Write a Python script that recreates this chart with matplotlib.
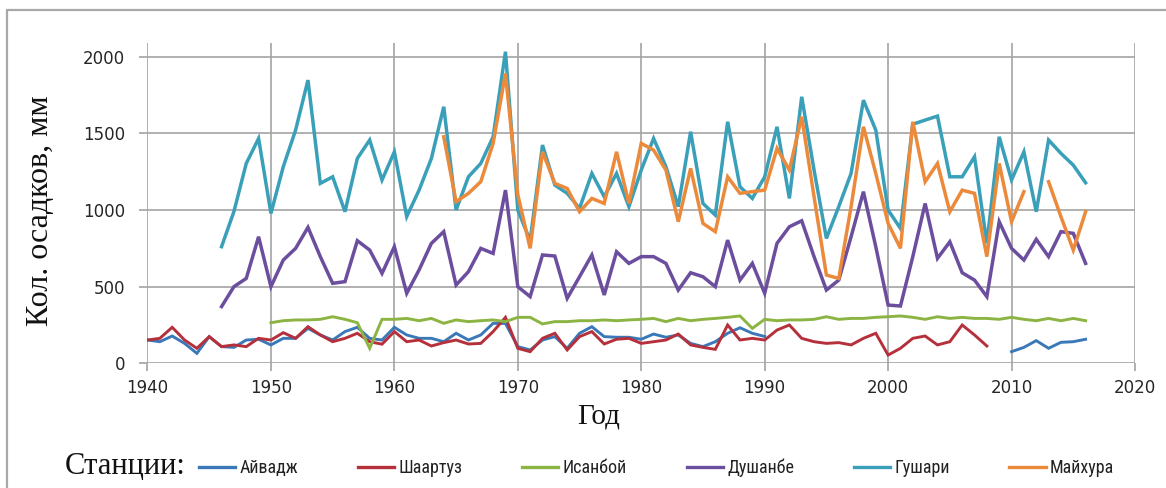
import numpy as np
import matplotlib
matplotlib.use("Agg")
import matplotlib.pyplot as plt
from matplotlib.lines import Line2D
from matplotlib.patches import Rectangle
from matplotlib import font_manager

nan = np.nan

# Годы наблюдений
years = np.arange(1940, 2017)

# Годовые суммы осадков по станциям, мм (1940–2016; nan = нет данных)
aivadj = [152, 141, 178, 130, 65, 174, 109, 104, 152, 157,
          120, 163, 163, 228, 185, 152, 207, 235, 163, 152,
          235, 185, 163, 163, 141, 196, 152, 185, 261, 260,
          109, 87, 152, 174, 98, 196, 239, 174, 170, 170,
          157, 191, 170, 185, 130, 109, 141, 196, 232, 196,
          175, nan, nan, nan, nan, nan, nan, nan, nan, nan,
          nan, nan, nan, nan, nan, nan, nan, nan, nan, nan,
          76, 104, 148, 98, 137, 141, 157]

shaartuz = [152, 163, 235, 152, 98, 174, 109, 120, 109, 163,
            152, 200, 163, 239, 185, 141, 163, 196, 141, 125,
            207, 141, 152, 113, 135, 152, 126, 130, 207, 300,
            98, 76, 163, 196, 87, 174, 207, 126, 157, 163,
            130, 141, 152, 191, 120, 104, 91, 250, 152, 163,
            152, 217, 250, 163, 141, 130, 135, 120, 163, 196,
            54, 98, 163, 178, 120, 141, 250, 185, 113, nan,
            nan, nan, nan, nan, nan, nan, nan]

isanboi = [nan] * 10 + [
           265, 278, 283, 283, 287, 304, 287, 265, 98, 287,
           287, 293, 278, 293, 261, 283, 272, 278, 283, 272,
           300, 300, 257, 272, 272, 278, 278, 283, 278, 283,
           287, 293, 272, 293, 278, 287, 293, 300, 309, 228,
           287, 278, 283, 283, 287, 304, 287, 293, 293, 300,
           304, 309, 300, 287, 304, 293, 300, 293, 293, 287,
           300, 287, 278, 293, 278, 293, 278]

dushanbe = [nan] * 6 + [
            370, 500, 554, 826,
            500, 674, 750, 887, 696, 522, 533, 800, 739, 587,
            761, 457, 609, 783, 859, 511, 598, 750, 717, 1130,
            500, 435, 707, 700, 424, 565, 707, 446, 728, 652,
            696, 696, 652, 478, 591, 565, 500, 804, 543, 652,
            457, 783, 891, 930, 696, 478, 543, 826, 1120, 761,
            380, 374, 696, 1043, 685, 793, 591, 543, 435, 924,
            750, 674, 809, 696, 859, 848, 652]

gushari = [nan] * 6 + [
           761, 990, 1304, 1467,
           978, 1283, 1522, 1848, 1174, 1217, 989, 1337, 1457, 1196,
           1380, 957, 1130, 1337, 1674, 1000, 1217, 1304, 1478, 2033,
           1000, 800, 1424, 1163, 1109, 1011, 1239, 1087, 1239, 1022,
           1261, 1467, 1283, 1022, 1511, 1043, 967, 1576, 1152, 1076,
           1217, 1543, 1076, 1739, 1261, 815, 1022, 1239, 1717, 1522,
           1000, 880, 1560, 1587, 1613, 1217, 1217, 1348, 783, 1478,
           1196, 1380, 989, 1457, 1370, 1293, 1178]

maikhura = [nan] * 24 + [
            1478, 1054, 1109, 1185, 1435, 1891,
            1100, 750, 1380, 1174, 1141, 989, 1076, 1043, 1380, 1043,
            1435, 1391, 1261, 924, 1272, 913, 859, 1217, 1109, 1120,
            1130, 1402, 1261, 1609, 1087, 576, 554, 1022, 1543, 1239,
            913, 750, 1576, 1185, 1304, 989, 1130, 1109, 696, 1304,
            924, 1120, nan, 1185, 957, 739, 989]

stations = ["Айвадж", "Шаартуз", "Исанбой", "Душанбе", "Гушари", "Майхура"]
series = [aivadj, shaartuz, isanboi, dushanbe, gushari, maikhura]
colors = ["#3a78b8", "#b5303b", "#8cb443", "#6c4e9e", "#3aa0ba", "#ec8a3c"]
widths = [2.1, 2.1, 2.1, 2.5, 2.5, 2.5]

x_ticks = [1940, 1950, 1960, 1970, 1980, 1990, 2000, 2010, 2020]
y_ticks = [0, 500, 1000, 1500, 2000]


def pick_font(names, default="DejaVu Sans"):
    available = {f.name for f in font_manager.fontManager.ttflist}
    for n in names:
        if n in available:
            return n
    return default


serif = pick_font(["Liberation Serif", "DejaVu Serif"])
narrow = pick_font(["Liberation Sans Narrow", "Roboto Condensed", "Open Sans Condensed", "Liberation Sans"])

fig = plt.figure(figsize=(11.66, 4.88), dpi=100)
fig.patch.set_facecolor("white")

# рамка диаграммы
fig.patches.append(Rectangle((0.006, -0.1), 1.2, 1.0795, transform=fig.transFigure,
                             fill=False, edgecolor="#a8a8a8", linewidth=1.6))

ax = fig.add_axes([0.1265, 0.2555, 0.8469, 0.6564])
grid_color = "#a3a3a3"

for vals, col, lw in zip(series, colors, widths):
    ax.plot(years, np.array(vals, dtype=float), color=col, lw=lw,
            solid_joinstyle="miter", zorder=3)

ax.set_xlim(1940, 2020)
ax.set_ylim(0, 2090)
ax.set_xticks(x_ticks)
ax.set_yticks(y_ticks)
ax.grid(True, color=grid_color, linewidth=1.2, zorder=0)
for s in ax.spines.values():
    s.set_visible(False)
ax.tick_params(axis="both", length=6, width=1.2, color=grid_color,
               labelsize=12, labelcolor="#262626")
ax.tick_params(axis="y", pad=10)
ax.tick_params(axis="x", pad=5)
for lbl in ax.get_xticklabels() + ax.get_yticklabels():
    lbl.set_family("DejaVu Sans")

ax.set_xlabel("Год", family=serif, fontsize=21, color="#111111")
ax.xaxis.set_label_coords(0.457, -0.125)
ax.set_ylabel("Кол. осадков, мм", family=serif, fontsize=23, color="#111111")
ax.yaxis.set_label_coords(-0.094, 0.478)

# легенда
fig.text(65 / 1166, 1 - 467 / 488, "Станции:", family=serif, fontsize=22,
         va="center", ha="left", color="#111111")
handles = [Line2D([], [], color=c, lw=2.4) for c in colors]
leg = fig.legend(handles, stations, loc="center left",
                 bbox_to_anchor=(199 / 1166, 1 - 468 / 488),
                 ncol=6, frameon=False, handlelength=2.0, handletextpad=0.25,
                 columnspacing=3.3, borderpad=0, borderaxespad=0,
                 prop={"family": narrow, "size": 13})
for t in leg.get_texts():
    t.set_color("#222222")

fig.savefig("out.png", dpi=100, facecolor="white")
